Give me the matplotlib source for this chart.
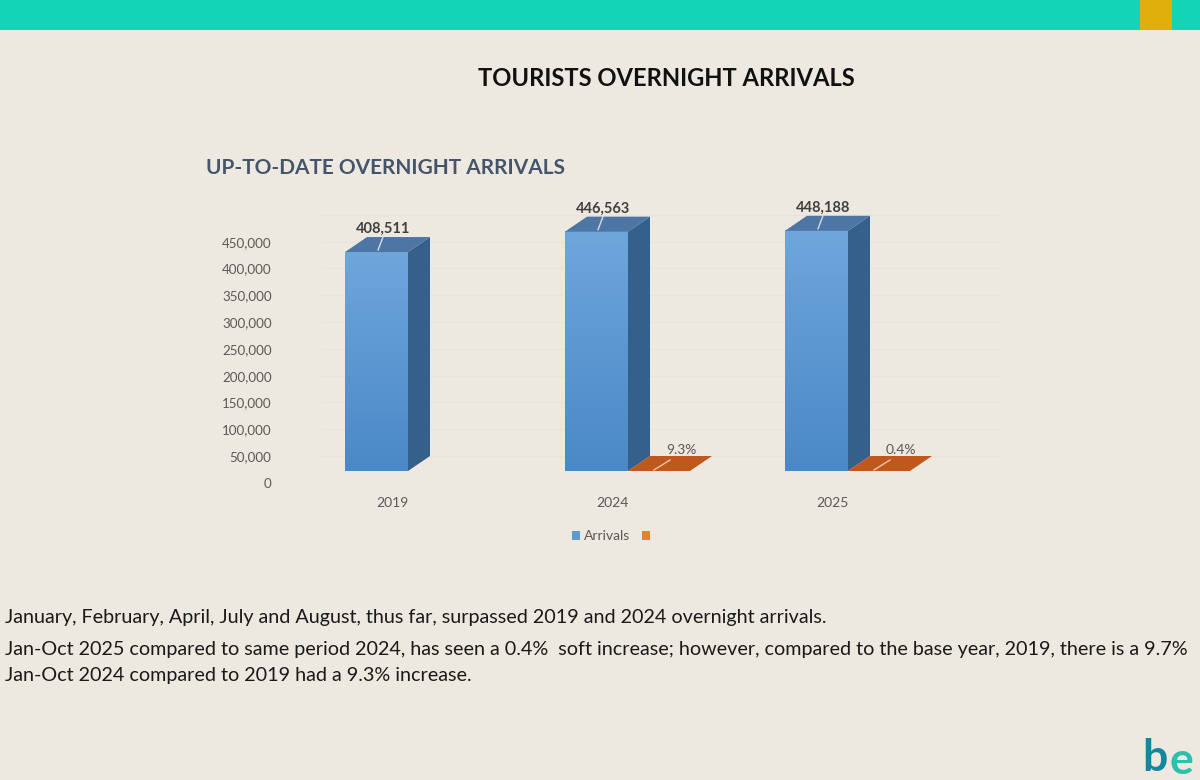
import numpy as np
import matplotlib
matplotlib.use('Agg')
import matplotlib.pyplot as plt
from matplotlib.patches import Rectangle, Polygon, Patch
from matplotlib.colors import LinearSegmentedColormap

# data
anos = ['2019', '2024', '2025']
chegadas = [408511, 446563, 448188]
variacao = [None, 9.3, 0.4]          # % change vs previous period
y_ticks = [0, 50000, 100000, 150000, 200000, 250000, 300000, 350000, 400000, 450000]

titulo = 'TOURISTS OVERNIGHT ARRIVALS'
subtitulo = 'UP-TO-DATE OVERNIGHT ARRIVALS'
linhas_texto = [
    'January, February, April, July and August, thus far, surpassed 2019 and 2024 overnight arrivals.',
    'Jan-Oct 2025 compared to same period 2024, has seen a 0.4%  soft increase; however, compared to the base year, 2019, there is a 9.7%',
    'Jan-Oct 2024 compared to 2019 had a 9.3% increase.',
]

plt.rcParams['font.family'] = ['Lato', 'DejaVu Sans']

W, H = 1200, 780
bg = '#EEE9E0'
fig = plt.figure(figsize=(12, 7.8), dpi=100, facecolor=bg)

def fx(px):
    return px / W

def fy(py):
    return 1 - py / H

# faixa do topo
fig.add_artist(Rectangle((0, fy(30)), 1, 30 / H, transform=fig.transFigure, color='#13D4B5', lw=0))
fig.add_artist(Rectangle((fx(1140), fy(30)), 32 / W, 30 / H, transform=fig.transFigure, color='#E1AF0C', lw=0))

fig.text(fx(478), fy(78), titulo, fontsize=17.1, fontweight='bold', color='#111111', va='center', ha='left')
fig.text(fx(206), fy(168), subtitulo, fontsize=15, fontweight='bold', color='#44546A', va='center', ha='left')

# eixo do grafico (pixel box 280..1000, 190..510)
L, R, T, B = 280, 1000, 190, 510
ax = fig.add_axes([fx(L), fy(B), (R - L) / W, (B - T) / H])
ax.set_facecolor('none')
px_y = 1e6 / 536.0          # data units per pixel (y)
px_x = 1 / 220.0            # data units per pixel (x)
y0_px = 483
ax.set_ylim(-(B - y0_px) * px_y, (y0_px - T) * px_y)
ax.set_xlim((L - 392) * px_x, (R - 392) * px_x)
for s in ax.spines.values():
    s.set_visible(False)
ax.set_yticks(y_ticks)
ax.set_yticklabels([f'{v:,}' for v in y_ticks], fontsize=9.6, color='#595959')
ax.tick_params(axis='y', length=0, pad=6)
ax.set_xticks([])

base = 12 * px_y        # floor of the 3d box
dx = 22 * px_x
dy = 15 * px_y
x_a, x_b = -47 * px_x, 16 * px_x     # front face of the blue bar
x_c, x_d = 16 * px_x, 78 * px_x      # front face of the orange bar

# gridlines on back wall (very faint)
for v in y_ticks:
    ax.plot([(300 - 392) * px_x + dx, (1000 - 392) * px_x], [v + base + dy, v + base + dy],
            color='#E9E4DA', lw=0.8, zorder=0)

grad = np.linspace(0, 1, 256).reshape(-1, 1)
cmap_front = LinearSegmentedColormap.from_list('front', ['#4A88C7', '#6FA6DC'])

for i, (ano, v) in enumerate(zip(anos, chegadas)):
    x0, x1 = i + x_a, i + x_b
    topo = base + v
    # front face with gradient
    ax.imshow(grad, extent=[x0, x1, base, topo], origin='lower', cmap=cmap_front,
              aspect='auto', zorder=3)
    # lateral
    ax.add_patch(Polygon([(x1, base), (x1 + dx, base + dy), (x1 + dx, topo + dy), (x1, topo)],
                         closed=True, facecolor='#36608C', edgecolor='none', zorder=3))
    # topo
    ax.add_patch(Polygon([(x0, topo), (x1, topo), (x1 + dx, topo + dy), (x0 + dx, topo + dy)],
                         closed=True, facecolor='#4D76A4', edgecolor='none', zorder=3))
    # rotulo e linha guia
    ax.text(i - 9 * px_x, topo + 23 * px_y, f'{v:,}', ha='center', va='center', fontsize=10.5,
            fontweight='bold', color='#404040', zorder=5)
    ax.plot([i - 9 * px_x, i - 14 * px_x], [topo + 15 * px_y, topo + 2 * px_y], color='#D6DCE4', lw=1, zorder=5)
    ax.text(i, -20 * px_y, ano, ha='center', va='center', fontsize=10, color='#595959')

    p = variacao[i]
    if p is not None:
        c0, c1 = i + x_c, i + x_d
        ax.add_patch(Polygon([(c0, base), (c1, base), (c1 + dx, base + dy), (c0 + dx, base + dy)],
                             closed=True, facecolor='#C0581E', edgecolor='none', zorder=3))
        ax.plot([i + 42 * px_x, i + 58 * px_x], [base + 1 * px_y, base + 11 * px_y], color='#F2C5A8', lw=1, zorder=4)
        ax.text(i + 69 * px_x, base + 21 * px_y, f'{p}%', ha='center', va='center', fontsize=10,
                color='#595959', zorder=5)

# legenda
handles = [Patch(facecolor='#5B9BD5', edgecolor='none'), Patch(facecolor='#ED7D31', edgecolor='none')]
fig.legend(handles, ['Arrivals', ''], loc='center', bbox_to_anchor=(fx(613), fy(536)), ncol=2,
           frameon=False, fontsize=10, labelcolor='#595959', handlelength=0.6, handleheight=0.6,
           handletextpad=0.3, columnspacing=0.8)

# texto de baixo
for linha, yy in zip(linhas_texto, [617, 649, 676]):
    fig.text(fx(5), fy(yy), linha, fontsize=14.2, color='#1A1A1A', va='center', ha='left')

# logo
fig.text(fx(1142), fy(758), 'b', fontsize=32, fontweight='bold', color='#15869E', va='center', ha='left')
fig.text(fx(1170), fy(761), 'e', fontsize=32, fontweight='bold', color='#2BC1AE', va='center', ha='left')

fig.savefig('out.png', dpi=100, facecolor=bg)
